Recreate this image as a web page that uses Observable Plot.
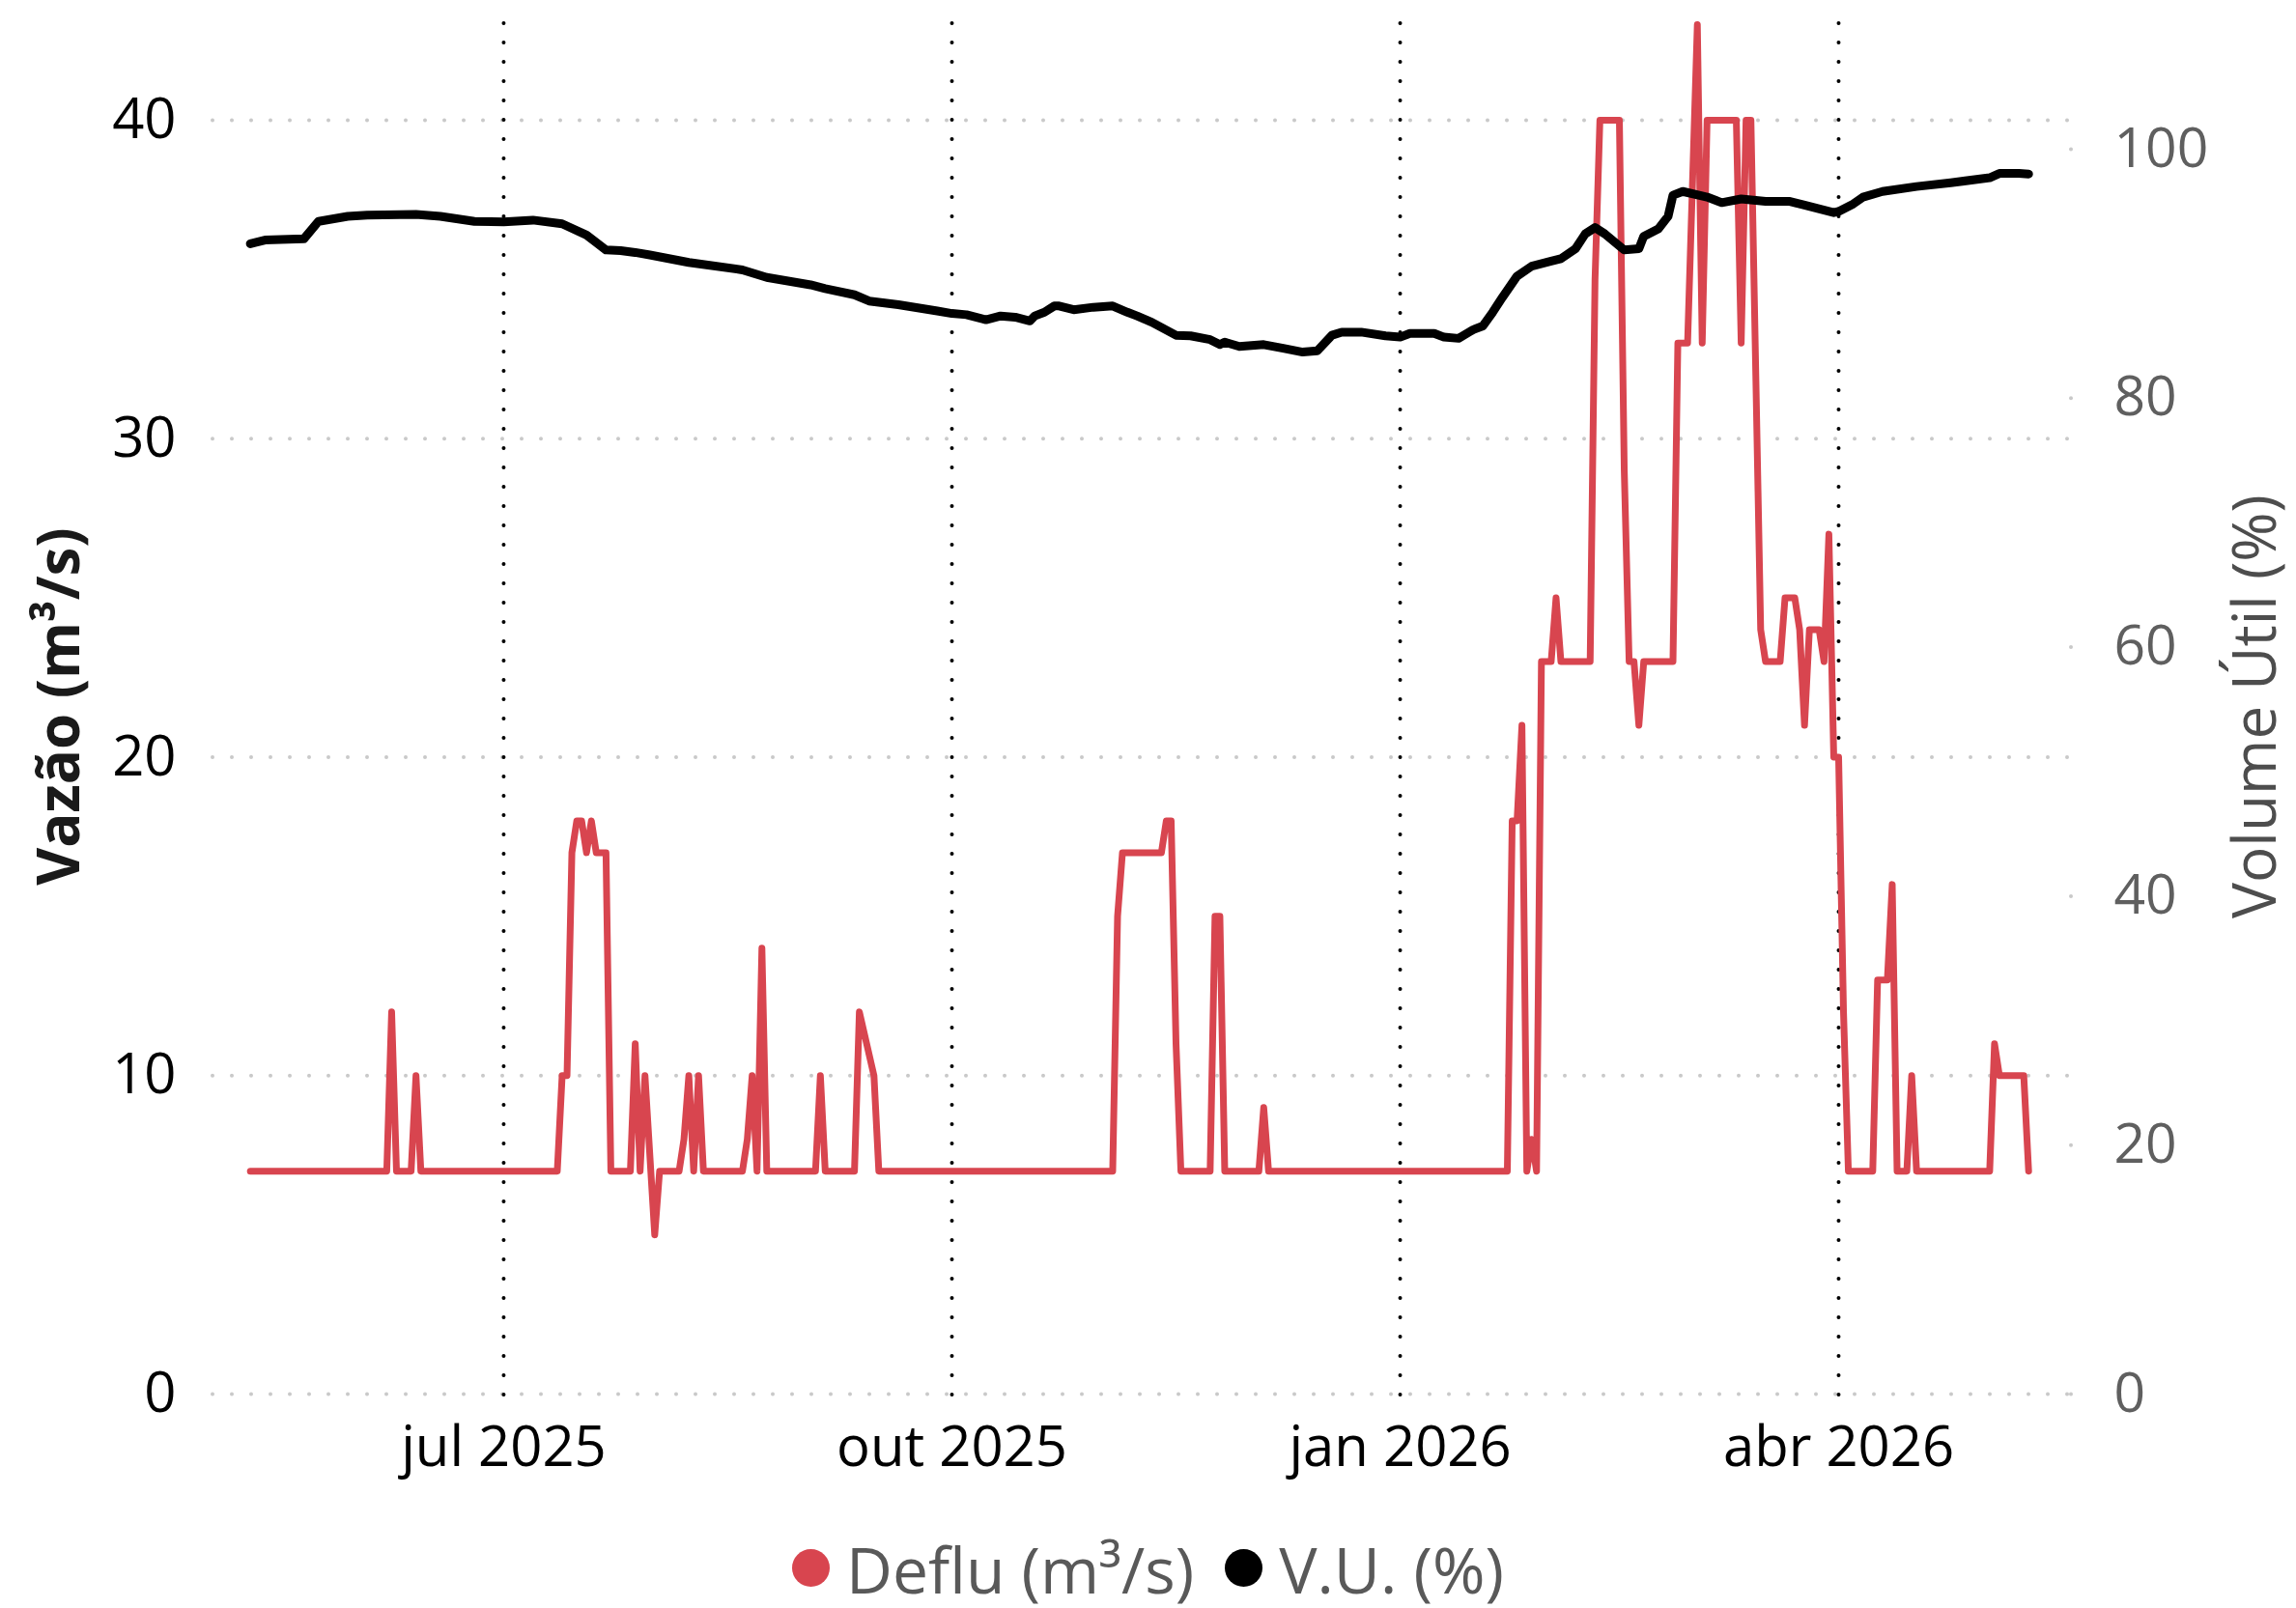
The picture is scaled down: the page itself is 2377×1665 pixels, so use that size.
<!DOCTYPE html>
<html>
<head>
<meta charset="utf-8">
<script src="https://cdn.jsdelivr.net/npm/d3@7"></script>
<script src="https://cdn.jsdelivr.net/npm/@observablehq/plot@0.6"></script>
<style>
  html, body { margin: 0; padding: 0; background: #ffffff; overflow: hidden; }
  #legend {
    height: 105px; box-sizing: border-box; padding-top: 22px;
    display: flex; justify-content: center; align-items: center;
    font-family: "Open Sans", sans-serif; font-size: 66px; line-height: 1; color: #595959;
  }
  .item { display: flex; align-items: center; margin: 0 16px; }
  .dot { width: 39px; height: 39px; border-radius: 50%; margin-right: 17px; }
</style>
</head>
<body>
<div id="chart"></div>
<div id="legend"></div>
<script>
// ---------------- data ----------------
const defluDates = [
  "2025-05-10","2025-06-07","2025-06-08","2025-06-09","2025-06-12","2025-06-13","2025-06-14",
  "2025-07-12","2025-07-13","2025-07-14","2025-07-15","2025-07-16","2025-07-17","2025-07-18","2025-07-19","2025-07-20","2025-07-22","2025-07-23",
  "2025-07-27","2025-07-28","2025-07-29","2025-07-30","2025-08-01","2025-08-02",
  "2025-08-06","2025-08-07","2025-08-08","2025-08-09","2025-08-10","2025-08-11",
  "2025-08-19","2025-08-20","2025-08-21","2025-08-22","2025-08-23","2025-08-24",
  "2025-09-03","2025-09-04","2025-09-05","2025-09-11","2025-09-12","2025-09-15","2025-09-16",
  "2025-11-03","2025-11-04","2025-11-05","2025-11-13","2025-11-14","2025-11-15","2025-11-16","2025-11-17",
  "2025-11-23","2025-11-24","2025-11-25","2025-11-26","2025-12-03","2025-12-04","2025-12-05",
  "2026-01-23","2026-01-24","2026-01-25","2026-01-26","2026-01-27","2026-01-28","2026-01-29","2026-01-30",
  "2026-02-01","2026-02-02","2026-02-03","2026-02-09","2026-02-10","2026-02-11","2026-02-15","2026-02-16","2026-02-17",
  "2026-02-18","2026-02-19","2026-02-20","2026-02-26","2026-02-27","2026-03-01","2026-03-02","2026-03-03","2026-03-04",
  "2026-03-05","2026-03-11","2026-03-12","2026-03-13","2026-03-14","2026-03-15","2026-03-16","2026-03-17",
  "2026-03-20","2026-03-21","2026-03-23","2026-03-24","2026-03-25","2026-03-26","2026-03-28","2026-03-29","2026-03-30","2026-03-31",
  "2026-04-01","2026-04-02","2026-04-03","2026-04-08","2026-04-09","2026-04-11","2026-04-12","2026-04-13",
  "2026-04-15","2026-04-16","2026-04-17","2026-05-02","2026-05-03","2026-05-04","2026-05-09","2026-05-10"
];
const defluValues = [
  7,7,12,7,7,10,7,
  7,10,10,17,18,18,17,18,17,17,7,
  7,11,7,10,5,7,
  7,8,10,7,10,7,
  7,8,10,7,14,7,
  7,10,7,7,12,10,7,
  7,15,17,17,18,18,11,7,
  7,15,15,7,7,9,7,
  7,18,18,21,7,8,7,23,
  23,25,23,23,35,40,40,29,23,
  23,21,23,23,33,33,38,43,33,
  40,40,33,40,40,32,24,23,
  23,25,25,24,21,24,24,23,27,20,
  20,12,7,7,13,13,16,7,
  7,10,7,7,11,10,10,7
];

const vuDates = [
  "2025-05-10","2025-05-13","2025-05-21","2025-05-24","2025-05-30","2025-06-03","2025-06-13","2025-06-18","2025-06-25",
  "2025-07-01","2025-07-07","2025-07-13","2025-07-18","2025-07-22","2025-07-25","2025-07-28","2025-07-31",
  "2025-08-08","2025-08-19","2025-08-24","2025-09-02","2025-09-05","2025-09-11","2025-09-14","2025-09-20","2025-09-28",
  "2025-10-01","2025-10-04","2025-10-08","2025-10-11","2025-10-14","2025-10-17","2025-10-18","2025-10-20","2025-10-22",
  "2025-10-23","2025-10-26","2025-10-30","2025-11-03","2025-11-06","2025-11-08","2025-11-11","2025-11-16","2025-11-19",
  "2025-11-23","2025-11-25","2025-11-26","2025-11-29","2025-12-04","2025-12-08","2025-12-12","2025-12-15","2025-12-18",
  "2025-12-20","2025-12-24","2025-12-29","2026-01-01","2026-01-03","2026-01-08","2026-01-10","2026-01-13","2026-01-16",
  "2026-01-18","2026-01-20","2026-01-22","2026-01-25","2026-01-28","2026-02-01","2026-02-03","2026-02-06","2026-02-08",
  "2026-02-10","2026-02-12","2026-02-16","2026-02-19","2026-02-20","2026-02-23","2026-02-25","2026-02-26","2026-02-28",
  "2026-03-05","2026-03-08","2026-03-12","2026-03-17","2026-03-22","2026-03-25","2026-03-31","2026-04-01","2026-04-04",
  "2026-04-06","2026-04-10","2026-04-17","2026-04-24","2026-05-02","2026-05-04","2026-05-08","2026-05-10"
];
const vuValues = [
  92.4,92.7,92.8,94.2,94.6,94.7,94.75,94.6,94.2,
  94.15,94.3,94.0,93.1,91.9,91.85,91.7,91.5,
  90.9,90.3,89.7,89.1,88.8,88.3,87.8,87.5,87.0,
  86.8,86.7,86.3,86.6,86.5,86.2,86.6,86.9,87.4,
  87.4,87.1,87.3,87.4,86.9,86.6,86.1,85.05,85.0,
  84.7,84.3,84.5,84.15,84.3,84.0,83.7,83.8,85.05,
  85.3,85.3,85.0,84.9,85.2,85.2,84.9,84.8,85.5,
  85.8,86.9,88.1,89.8,90.6,91.0,91.2,92.0,93.2,
  93.7,93.2,91.9,92.0,93.0,93.6,94.6,96.3,96.6,
  96.15,95.7,96.0,95.8,95.8,95.5,94.9,95.0,95.6,
  96.15,96.6,97.0,97.3,97.7,98.05,98.05,98.0
];

const seriesNames = ["Deflu (m³/s)", "V.U. (%)"];
const seriesColors = ["#d8454f", "#000000"];

const xTickDates = ["2025-07-01", "2025-10-01", "2026-01-01", "2026-04-01"];
const xTickLabels = ["jul 2025", "out 2025", "jan 2026", "abr 2026"];
const leftTicks = [0, 10, 20, 30, 40];
const rightTicks = [0, 20, 40, 60, 80, 100];
const leftTitle = "Vazão (m³/s)";
const rightTitle = "Volume Útil (%)";

// secondary axis: 100 % of volume drawn at 39.09 m³/s
const secondaryRatio = 39.09 / 100;

// ---------------- build ----------------
const deflu = defluDates.map((d, i) => ({date: new Date(d), value: defluValues[i]}));
const vu = vuDates.map((d, i) => ({date: new Date(d), value: vuValues[i]}));
const tickDates = xTickDates.map(d => new Date(d));
const labelOf = new Map(tickDates.map((d, i) => [+d, xTickLabels[i]]));

const W = 2377, H = 1560;
const fontFam = "'Open Sans', sans-serif";

const chart = Plot.plot({
  width: W,
  height: H,
  marginLeft: 220,
  marginRight: 234,
  marginTop: 24,
  marginBottom: 104,
  style: {fontFamily: fontFam, background: "#ffffff", overflow: "visible"},
  x: {type: "utc", domain: [new Date("2025-05-02T08:00:00Z"), new Date("2026-05-18T14:00:00Z")]},
  y: {domain: [-0.394, 43.03]},
  marks: [
    Plot.gridY(leftTicks, {stroke: "#c9c9c9", strokeOpacity: 1, strokeWidth: 4, strokeDasharray: "0,20", strokeLinecap: "round"}),
    Plot.gridX(tickDates, {stroke: "#000000", strokeOpacity: 1, strokeWidth: 4, strokeDasharray: "0,20", strokeLinecap: "round"}),
    Plot.axisY({anchor: "left", ticks: leftTicks, tickSize: 0, tickPadding: 38, fontSize: 58, fill: "#000000", label: null}),
    Plot.axisY({anchor: "right", ticks: rightTicks.map(t => t * secondaryRatio), tickSize: -21, tickFormat: () => "",
      stroke: "#c9c9c9", strokeWidth: 4, strokeDasharray: "0,21", strokeLinecap: "round", label: null}),
    Plot.axisY({anchor: "right", ticks: rightTicks.map(t => t * secondaryRatio), tickSize: 0, tickPadding: 45,
      tickFormat: v => String(Math.round(v / secondaryRatio)), fontSize: 57, fill: "#5f5f5f", label: null}),
    Plot.axisX({ticks: tickDates, tickSize: 0, tickPadding: 20, tickFormat: d => labelOf.get(+d), fontSize: 58, fill: "#000000", label: null}),
    Plot.line(deflu, {x: "date", y: "value", stroke: seriesColors[0], strokeWidth: 7, strokeLinejoin: "round", strokeLinecap: "round"}),
    Plot.line(vu, {x: "date", y: d => d.value * secondaryRatio, stroke: seriesColors[1], strokeWidth: 9, strokeLinejoin: "round", strokeLinecap: "round"}),
    Plot.text([leftTitle], {frameAnchor: "left", textAnchor: "middle", rotate: -90, dx: -158, dy: -9, fontSize: 60, fontWeight: "bold", fill: "#1a1a1a"}),
    Plot.text([rightTitle], {frameAnchor: "right", textAnchor: "middle", rotate: -90, dx: 193, dy: -9, fontSize: 62, fill: "#4d4d4d"})
  ]
});
document.getElementById("chart").appendChild(chart);

const legend = document.getElementById("legend");
seriesNames.forEach((name, i) => {
  const item = document.createElement("div");
  item.className = "item";
  const dot = document.createElement("span");
  dot.className = "dot";
  dot.style.background = seriesColors[i];
  const label = document.createElement("span");
  label.textContent = name;
  item.appendChild(dot);
  item.appendChild(label);
  legend.appendChild(item);
});
</script>
</body>
</html>
